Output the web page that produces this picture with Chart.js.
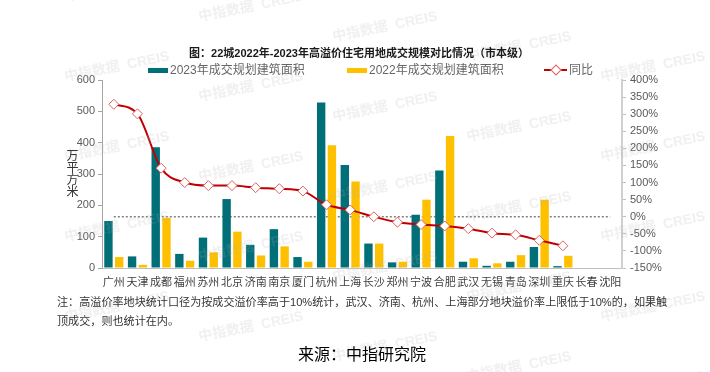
<!DOCTYPE html>
<html>
<head>
<meta charset="utf-8">
<script src="https://cdn.jsdelivr.net/npm/chart.js@4"></script>
<style>
  body { margin: 0; background: #fff; font-family: "Liberation Sans", "Noto Sans CJK SC", sans-serif; }
  #wrap { position: relative; width: 710px; height: 372px; overflow: hidden; }
  #c { position: absolute; left: 0; top: 0; }
  .txt { position: absolute; white-space: nowrap; }
  #title { left: 0; width: 718px; top: 44px; text-align: center; font-size: 11px; font-weight: bold; color: #1a1a1a; }
  .lg { position: absolute; top: 62px; height: 16px; line-height: 16px; font-size: 12px; color: #666; }
  .box { position: absolute; top: 6px; width: 20px; height: 5px; }
  #ytitle { left: 64px; top: 149px; font-size: 12px; color: #333; writing-mode: vertical-rl; text-orientation: upright; line-height: 14px; }
  #note { left: 57px; top: 293px; font-size: 11.1px; line-height: 19px; color: #333; }
  #src { left: 0; width: 724px; top: 341px; text-align: center; font-size: 16px; color: #000; }
</style>
</head>
<body>
<div id="wrap">
  <canvas id="c" width="710" height="372"></canvas>
  <div class="txt" id="title">图：22城2022年-2023年高溢价住宅用地成交规模对比情况（市本级）</div>
  <div class="lg" style="left:148px"><span class="box" style="left:0;background:#006f78"></span><span style="margin-left:22px">2023年成交规划建筑面积</span></div>
  <div class="lg" style="left:347px"><span class="box" style="left:0;background:#ffc000"></span><span style="margin-left:22px">2022年成交规划建筑面积</span></div>
  <div class="lg" style="left:544px">
    <span style="position:absolute;left:0;top:7px;width:23px;height:2px;background:#c00000"></span>
    <span style="position:absolute;left:8px;top:4px;width:6px;height:6px;background:#fff;border:1px solid #e06060;transform:rotate(45deg)"></span>
    <span style="margin-left:25px">同比</span>
  </div>
  <div class="txt" id="ytitle">万平方米</div>
  <div class="txt" id="note">注：高溢价率地块统计口径为按成交溢价率高于10%统计，武汉、济南、杭州、上海部分地块溢价率上限低于10%的，如果触<br>顶成交，则也统计在内。</div>
  <div class="txt" id="src">来源：中指研究院</div>
</div>
<script>
// cities
const cities = ['广州', '天津', '成都', '福州', '苏州', '北京', '济南', '南京', '厦门', '杭州', '上海',
    '长沙', '郑州', '宁波', '合肥', '武汉', '无锡', '青岛', '深圳', '重庆', '长春', '沈阳'];

// 万平方米
const area2023 = [150, 37, 385, 45, 97, 220, 74, 124, 35, 528, 329, 78, 18, 170, 311, 20, 7, 20, 67, 6, null, null];
const area2022 = [35, 10, 160, 23, 50, 116, 40, 69, 20, 392, 276, 78, 20, 218, 421, 31, 15, 41, 218, 39, null, null];

// 同比 %
const yoy = [329, 301, 142, 100, 91, 91, 85, 82, 75, 35, 20, 0, -16, -23, -27, -35, -48, -53, -69, -85, null, null];
const zeroLine = cities.map(() => 0);

const leftTicks = [0, 100, 200, 300, 400, 500, 600];
const rightTicks = [-150, -100, -50, 0, 50, 100, 150, 200, 250, 300, 350, 400];

const fontFam = '"Liberation Sans", "Noto Sans CJK SC", sans-serif';

// watermark
const watermark = {
    id: 'watermark',
    afterDraw(chart) {
        const ctx = chart.ctx;
        ctx.save();
        ctx.font = 'bold 14px ' + fontFam;
        ctx.fillStyle = 'rgba(170,170,170,0.18)';
        ctx.textAlign = 'center';
        ctx.textBaseline = 'middle';
        for (let i = 0; i < 5; i++) {
            for (let j = -1; j < 4; j++) {
                const x = 117 + 134 * i;
                const y = 67 + 20 * i + 80 * j;
                ctx.save();
                ctx.translate(x, y);
                ctx.rotate(-0.2);
                ctx.fillText('中指数据  CREIS', 0, 0);
                ctx.restore();
            }
        }
        ctx.restore();
    }
};

new Chart(document.getElementById('c'), {
    data: {
        labels: cities,
        datasets: [
            {
                type: 'line',
                label: 'zero',
                data: zeroLine,
                yAxisID: 'y1',
                borderColor: '#808080',
                borderWidth: 1.5,
                borderDash: [2, 2],
                pointRadius: 0,
                order: 3
            },
            {
                type: 'bar',
                label: '2023年成交规划建筑面积',
                data: area2023,
                backgroundColor: '#006f78',
                borderWidth: 0,
                categoryPercentage: 0.91,
                barPercentage: 0.78,
                yAxisID: 'y',
                order: 2
            },
            {
                type: 'bar',
                label: '2022年成交规划建筑面积',
                data: area2022,
                backgroundColor: '#ffc000',
                borderWidth: 0,
                categoryPercentage: 0.91,
                barPercentage: 0.78,
                yAxisID: 'y',
                order: 2
            },
            {
                type: 'line',
                label: '同比',
                data: yoy,
                yAxisID: 'y1',
                borderColor: '#c00000',
                borderWidth: 2,
                cubicInterpolationMode: 'monotone',
                pointStyle: 'rectRot',
                pointRadius: 5,
                pointBackgroundColor: '#ffffff',
                pointBorderColor: '#e06060',
                pointBorderWidth: 1,
                order: 0
            }
        ]
    },
    options: {
        responsive: false,
        animation: false,
        layout: { padding: { left: 60, right: 40, top: 80, bottom: 84 } },
        plugins: {
            legend: { display: false },
            tooltip: { enabled: false }
        },
        scales: {
            x: {
                grid: { display: false, drawTicks: false },
                border: { display: true, color: '#bfbfbf', width: 1 },
                ticks: { color: '#404040', font: { size: 11, family: fontFam }, padding: 8, maxRotation: 0, autoSkip: false },
                afterFit(s) { s.height = 20; }
            },
            y: {
                position: 'left',
                min: 0,
                max: 600,
                afterBuildTicks(s) { s.ticks = leftTicks.map(v => ({ value: v })); },
                grid: { drawOnChartArea: false, drawTicks: true, tickLength: 4, color: '#a6a6a6' },
                border: { color: '#a6a6a6', width: 1 },
                ticks: { color: '#595959', font: { size: 11, family: fontFam }, padding: 3 },
                afterFit(s) { s.width = 42; }
            },
            y1: {
                position: 'right',
                min: -150,
                max: 400,
                afterBuildTicks(s) { s.ticks = rightTicks.map(v => ({ value: v })); },
                grid: { drawOnChartArea: false, drawTicks: true, tickLength: 4, color: '#bfbfbf' },
                border: { color: '#d0d0d0', width: 2 },
                ticks: { color: '#595959', font: { size: 11, family: fontFam }, padding: 4, callback: v => v + '%' },
                afterFit(s) { s.width = 48; }
            }
        }
    },
    plugins: [watermark]
});
</script>
</body>
</html>
